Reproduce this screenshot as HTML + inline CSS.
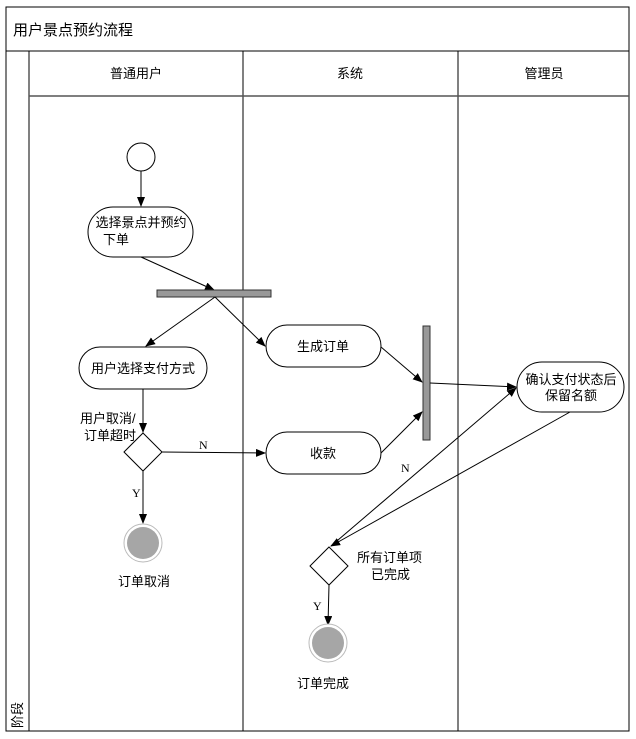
<!DOCTYPE html>
<html><head><meta charset="utf-8"><style>
body{margin:0;background:#fff;}
svg text{font-family:"Liberation Sans","Noto Sans CJK SC",sans-serif;font-size:13px;fill:#000;}
.s{font-family:"Liberation Serif",serif;font-size:12px;}
</style></head><body>
<svg width="636" height="734" viewBox="0 0 636 734" xmlns="http://www.w3.org/2000/svg">
<defs><marker id="a" markerWidth="10" markerHeight="8" refX="9" refY="4" orient="auto" markerUnits="userSpaceOnUse"><path d="M0,0 L10,4 L0,8 z" fill="#000"/></marker></defs>
<rect x="6" y="7" width="623" height="724" fill="#fff" stroke="#000"/>
<line x1="6" y1="51" x2="629" y2="51" stroke="#000"/>
<text x="13" y="35" style="font-size:15px">用户景点预约流程</text>
<line x1="29" y1="51" x2="29" y2="731" stroke="#000"/>
<line x1="243" y1="51" x2="243" y2="731" stroke="#000"/>
<line x1="458" y1="51" x2="458" y2="731" stroke="#000"/>
<line x1="29" y1="96" x2="629" y2="96" stroke="#555" stroke-width="1.5"/>
<text x="136" y="78" text-anchor="middle">普通用户</text>
<text x="350" y="78" text-anchor="middle">系统</text>
<text x="544" y="78" text-anchor="middle">管理员</text>
<text transform="translate(22,728) rotate(-90)">阶段</text>

<circle cx="141" cy="157" r="14" fill="#fff" stroke="#000"/>
<line x1="141" y1="171" x2="141" y2="206" stroke="#000" marker-end="url(#a)"/>
<rect x="88" y="207" width="105" height="50" rx="25" fill="#fff" stroke="#000"/>
<text x="141" y="227" text-anchor="middle">选择景点并预约</text>
<text x="116" y="244" text-anchor="middle">下单</text>
<line x1="141" y1="257" x2="214" y2="290" stroke="#000" marker-end="url(#a)"/>
<rect x="157" y="290" width="114" height="7" fill="#999" stroke="#333"/>
<line x1="215" y1="297" x2="146" y2="346" stroke="#000" marker-end="url(#a)"/>
<line x1="215" y1="297" x2="265" y2="346" stroke="#000" marker-end="url(#a)"/>
<rect x="79" y="347" width="128" height="42" rx="21" fill="#fff" stroke="#000"/>
<text x="143" y="373" text-anchor="middle">用户选择支付方式</text>
<rect x="266" y="325" width="115" height="42" rx="21" fill="#fff" stroke="#000"/>
<text x="323" y="351" text-anchor="middle">生成订单</text>
<line x1="143" y1="389" x2="143" y2="432" stroke="#000" marker-end="url(#a)"/>
<text x="80" y="423">用户取消/</text>
<text x="84" y="440">订单超时</text>
<polygon points="143,433 162,452 143,471 124,452" fill="#fff" stroke="#000"/>
<line x1="162" y1="452" x2="265" y2="453" stroke="#000" marker-end="url(#a)"/>
<text class="s" x="199" y="449">N</text>
<line x1="143" y1="471" x2="143" y2="523" stroke="#000" marker-end="url(#a)"/>
<text class="s" x="132" y="497">Y</text>
<circle cx="143" cy="543" r="19" fill="#fff" stroke="#bbb"/>
<circle cx="143" cy="543" r="16" fill="#a6a6a6"/>
<text x="118" y="586">订单取消</text>
<rect x="266" y="432" width="115" height="42" rx="21" fill="#fff" stroke="#000"/>
<text x="323" y="458" text-anchor="middle">收款</text>
<rect x="423" y="326" width="7" height="114" fill="#999" stroke="#333"/>
<line x1="381" y1="347" x2="422" y2="382" stroke="#000" marker-end="url(#a)"/>
<line x1="381" y1="453" x2="422" y2="412" stroke="#000" marker-end="url(#a)"/>
<line x1="430" y1="383" x2="516" y2="387" stroke="#000" marker-end="url(#a)"/>
<rect x="517" y="362" width="107" height="50" rx="25" fill="#fff" stroke="#000"/>
<text x="571" y="384" text-anchor="middle">确认支付状态后</text>
<text x="571" y="400" text-anchor="middle">保留名额</text>
<line x1="570" y1="412" x2="331" y2="546" stroke="#000" marker-end="url(#a)"/>
<line x1="331" y1="546" x2="516" y2="388" stroke="#000" marker-end="url(#a)"/>
<text class="s" x="401" y="472">N</text>
<polygon points="329,547 348,566 329,585 310,566" fill="#fff" stroke="#000"/>
<text x="357" y="562">所有订单项</text>
<text x="371" y="579">已完成</text>
<line x1="329" y1="585" x2="328" y2="625" stroke="#000" marker-end="url(#a)"/>
<text class="s" x="313" y="610">Y</text>
<circle cx="328" cy="643" r="19" fill="#fff" stroke="#bbb"/>
<circle cx="328" cy="643" r="16" fill="#a6a6a6"/>
<text x="297" y="688">订单完成</text>
</svg>
</body></html>
